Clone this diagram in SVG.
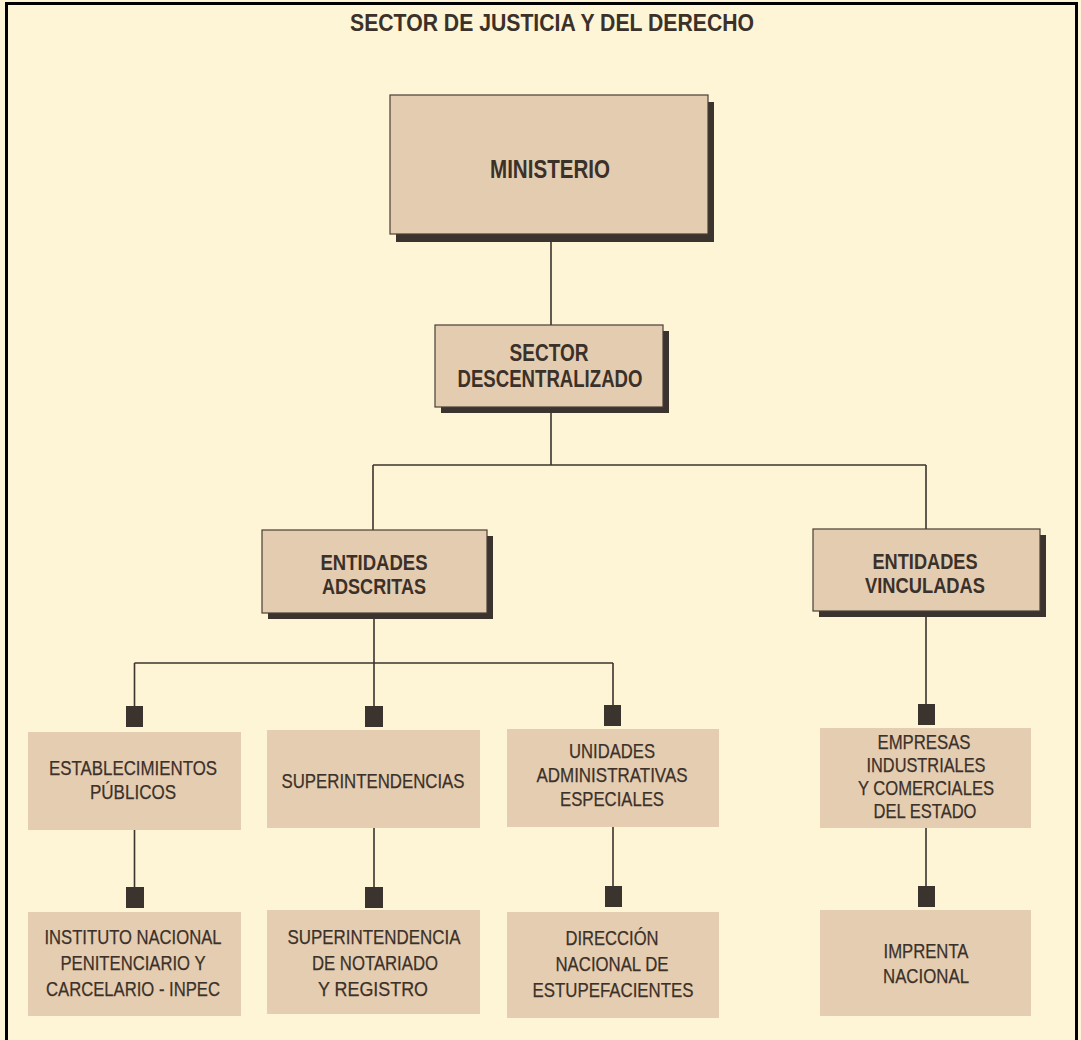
<svg xmlns="http://www.w3.org/2000/svg" width="1081" height="1040" viewBox="0 0 1081 1040">
<style>
.bg{fill:#fdf5d6}
.frame{stroke:#000;stroke-width:3;fill:none}
.box{fill:#e4ccb1;stroke:#4a3e35;stroke-width:1.2}
.shadow{fill:#3b332d}
.plain{fill:#e5cdb2}
.sq{fill:#3b332d}
.conn line,.conn path{stroke:#3b332d;stroke-width:1.6;fill:none}
.tb{font-family:"Liberation Sans",Arial,sans-serif;font-weight:bold;fill:#3b3129;text-anchor:middle}
.tr{font-family:"Liberation Sans",Arial,sans-serif;font-size:20px;fill:#3b3129;text-anchor:middle;stroke:#3b3129;stroke-width:0.25}
</style>
<rect class="bg" x="0" y="0" width="1081" height="1040"/>
<path class="frame" d="M6.5,1040 V3.5 H1076.5 V1040"/>
<text class="tb" x="552" y="31" font-size="24" textLength="404" lengthAdjust="spacingAndGlyphs">SECTOR DE JUSTICIA Y DEL DERECHO</text>

<g class="conn">
<line x1="551" y1="234" x2="551" y2="325"/>
<line x1="551" y1="407" x2="551" y2="465"/>
<line x1="373" y1="465" x2="926" y2="465"/>
<line x1="373" y1="465" x2="373" y2="530"/>
<line x1="926" y1="465" x2="926" y2="529"/>
<line x1="374" y1="612" x2="374" y2="663"/>
<line x1="134.5" y1="663" x2="613" y2="663"/>
<line x1="134.5" y1="663" x2="134.5" y2="706"/>
<line x1="374" y1="663" x2="374" y2="706"/>
<line x1="613" y1="663" x2="613" y2="706"/>
<line x1="926" y1="611" x2="926" y2="704"/>
<line x1="134.5" y1="830" x2="134.5" y2="887"/>
<line x1="374" y1="828" x2="374" y2="887"/>
<line x1="613" y1="827" x2="613" y2="886"/>
<line x1="926" y1="828" x2="926" y2="886"/>
<rect class="sq" x="126" y="706" width="17" height="21"/>
<rect class="sq" x="365" y="706" width="18" height="21"/>
<rect class="sq" x="604" y="705" width="17" height="21"/>
<rect class="sq" x="918" y="704" width="17" height="21"/>
<rect class="sq" x="126" y="887" width="18" height="21"/>
<rect class="sq" x="365" y="887" width="18" height="21"/>
<rect class="sq" x="605" y="886" width="17" height="21"/>
<rect class="sq" x="918" y="886" width="17" height="21"/>
</g>

<g id="ministerio">
<rect class="shadow" x="396" y="102" width="318" height="140"/>
<rect class="box" x="390" y="95" width="318" height="139"/>
<text class="tb" x="550" y="178" font-size="26" textLength="120" lengthAdjust="spacingAndGlyphs">MINISTERIO</text>
</g>

<g id="sector-descentralizado">
<rect class="shadow" x="441" y="331" width="228" height="82"/>
<rect class="box" x="435" y="325" width="228" height="82"/>
<text class="tb" x="549" y="361" font-size="23" textLength="79" lengthAdjust="spacingAndGlyphs">SECTOR</text>
<text class="tb" x="550" y="387" font-size="23" textLength="185" lengthAdjust="spacingAndGlyphs">DESCENTRALIZADO</text>
</g>

<g id="entidades-adscritas">
<rect class="shadow" x="268" y="536" width="225" height="83"/>
<rect class="box" x="262" y="530" width="225" height="83"/>
<text class="tb" x="374" y="570" font-size="22" textLength="107" lengthAdjust="spacingAndGlyphs">ENTIDADES</text>
<text class="tb" x="374" y="594" font-size="22" textLength="104" lengthAdjust="spacingAndGlyphs">ADSCRITAS</text>
</g>

<g id="entidades-vinculadas">
<rect class="shadow" x="819" y="535" width="227" height="82"/>
<rect class="box" x="813" y="529" width="227" height="82"/>
<text class="tb" x="925" y="569" font-size="22" textLength="105" lengthAdjust="spacingAndGlyphs">ENTIDADES</text>
<text class="tb" x="925" y="593" font-size="22" textLength="120" lengthAdjust="spacingAndGlyphs">VINCULADAS</text>
</g>

<g id="establecimientos-publicos">
<rect class="plain" x="28" y="732" width="213" height="98"/>
<text class="tr" x="133" y="775" textLength="168" lengthAdjust="spacingAndGlyphs">ESTABLECIMIENTOS</text>
<text class="tr" x="133" y="799" textLength="86" lengthAdjust="spacingAndGlyphs">PÚBLICOS</text>
</g>

<g id="superintendencias">
<rect class="plain" x="267" y="730" width="213" height="98"/>
<text class="tr" x="373" y="788" textLength="183" lengthAdjust="spacingAndGlyphs">SUPERINTENDENCIAS</text>
</g>

<g id="unidades-administrativas-especiales">
<rect class="plain" x="507" y="729" width="212" height="98"/>
<text class="tr" x="612" y="758" textLength="86" lengthAdjust="spacingAndGlyphs">UNIDADES</text>
<text class="tr" x="612" y="782" textLength="151" lengthAdjust="spacingAndGlyphs">ADMINISTRATIVAS</text>
<text class="tr" x="612" y="806" textLength="104" lengthAdjust="spacingAndGlyphs">ESPECIALES</text>
</g>

<g id="empresas-industriales">
<rect class="plain" x="820" y="728" width="211" height="100"/>
<text class="tr" x="924" y="749" textLength="93" lengthAdjust="spacingAndGlyphs">EMPRESAS</text>
<text class="tr" x="926" y="772" textLength="119" lengthAdjust="spacingAndGlyphs">INDUSTRIALES</text>
<text class="tr" x="926" y="795" textLength="136" lengthAdjust="spacingAndGlyphs">Y COMERCIALES</text>
<text class="tr" x="925" y="818" textLength="103" lengthAdjust="spacingAndGlyphs">DEL ESTADO</text>
</g>

<g id="inpec">
<rect class="plain" x="28" y="912" width="213" height="104"/>
<text class="tr" x="133" y="944" textLength="177" lengthAdjust="spacingAndGlyphs">INSTITUTO NACIONAL</text>
<text class="tr" x="133" y="970" textLength="145" lengthAdjust="spacingAndGlyphs">PENITENCIARIO Y</text>
<text class="tr" x="133" y="996" textLength="174" lengthAdjust="spacingAndGlyphs">CARCELARIO - INPEC</text>
</g>

<g id="superintendencia-notariado">
<rect class="plain" x="267" y="910" width="213" height="104"/>
<text class="tr" x="374" y="944" textLength="173" lengthAdjust="spacingAndGlyphs">SUPERINTENDENCIA</text>
<text class="tr" x="375" y="970" textLength="126" lengthAdjust="spacingAndGlyphs">DE NOTARIADO</text>
<text class="tr" x="373" y="996" textLength="110" lengthAdjust="spacingAndGlyphs">Y REGISTRO</text>
</g>

<g id="direccion-estupefacientes">
<rect class="plain" x="507" y="912" width="212" height="106"/>
<text class="tr" x="612" y="945" textLength="93" lengthAdjust="spacingAndGlyphs">DIRECCIÓN</text>
<text class="tr" x="612" y="971" textLength="113" lengthAdjust="spacingAndGlyphs">NACIONAL DE</text>
<text class="tr" x="613" y="997" textLength="161" lengthAdjust="spacingAndGlyphs">ESTUPEFACIENTES</text>
</g>

<g id="imprenta-nacional">
<rect class="plain" x="820" y="910" width="211" height="106"/>
<text class="tr" x="926" y="958" textLength="85" lengthAdjust="spacingAndGlyphs">IMPRENTA</text>
<text class="tr" x="926" y="983" textLength="86" lengthAdjust="spacingAndGlyphs">NACIONAL</text>
</g>
</svg>
